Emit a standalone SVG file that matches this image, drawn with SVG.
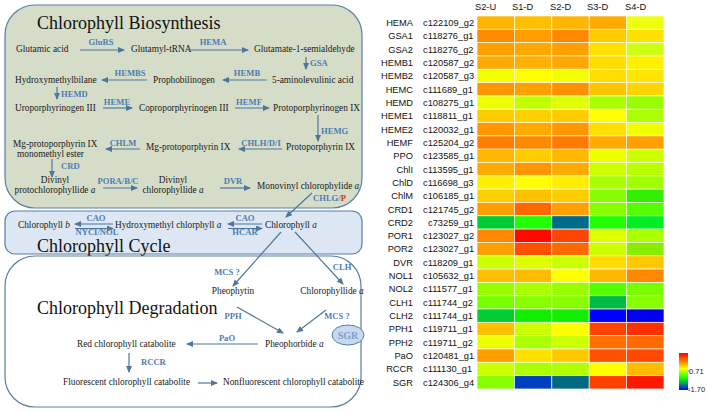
<svg xmlns="http://www.w3.org/2000/svg" width="708" height="414" viewBox="0 0 708 414">
<style>
.t{font-family:"Liberation Serif","Times New Roman",serif;font-size:9.3px;fill:#1a1a1a}
.e{font-family:"Liberation Serif","Times New Roman",serif;font-size:8.6px;font-weight:bold;fill:#4c7db5}
.h{font-family:"Liberation Serif","Times New Roman",serif;font-size:18px;fill:#111}
.g{font-family:"Liberation Sans",Arial,sans-serif;font-size:9.3px;fill:#111}
.ar{stroke:#4f769c;stroke-width:1.2;fill:none;marker-end:url(#ah)}
.box{stroke:#5a7ea6;stroke-width:1.2}
.c{stroke:#fff;stroke-width:0.8;stroke-opacity:0.8}
</style>
<defs>
<marker id="ah" markerUnits="userSpaceOnUse" markerWidth="7" markerHeight="6" refX="6" refY="3" orient="auto">
<path d="M0,0 L7,3 L0,6 z" fill="#4f769c"/>
</marker>
<linearGradient id="lg" x1="0" y1="0" x2="0" y2="1">
<stop offset="0" stop-color="#ff0000"/>
<stop offset="0.2" stop-color="#ff7000"/>
<stop offset="0.42" stop-color="#ffff00"/>
<stop offset="0.7" stop-color="#00ff00"/>
<stop offset="1" stop-color="#0000ff"/>
</linearGradient>
</defs>
<rect width="708" height="414" fill="#fff"/>

<!-- panels -->
<g id="panel-biosynthesis">
<rect class="box" x="5" y="5" width="357" height="203" rx="30" ry="30" fill="#d5ddc8"/>
<text class="h" x="37" y="29">Chlorophyll Biosynthesis</text>
</g>
<g id="panel-cycle">
<rect class="box" x="5" y="211" width="357" height="43" rx="10" ry="10" fill="#dce7f3"/>
<text class="h" x="37" y="251.5">Chlorophyll Cycle</text>
</g>
<g id="panel-degradation">
<rect class="box" x="5" y="256" width="356" height="151" rx="30" ry="30" fill="#ffffff"/>
<text class="h" x="37" y="314">Chlorophyll Degradation</text>
</g>

<!-- nodes -->
<g id="n-glutamic"><text class="t" x="16" y="52">Glutamic acid</text></g>
<g id="n-glutamyl"><text class="t" x="131" y="52">Glutamyl-tRNA</text></g>
<g id="n-gsa"><text class="t" x="254" y="52">Glutamate-1-semialdehyde</text></g>
<g id="n-hmb"><text class="t" x="15" y="83">Hydroxymethylbilane</text></g>
<g id="n-pbg"><text class="t" x="153" y="83">Prophobilinogen</text></g>
<g id="n-ala"><text class="t" x="272" y="83">5-aminolevulinic acid</text></g>
<g id="n-uro"><text class="t" x="15" y="111">Uroporphyrinogen III</text></g>
<g id="n-copro"><text class="t" x="139" y="111">Coproporphyrinogen III</text></g>
<g id="n-protogen"><text class="t" x="273" y="111">Protoporphyrinogen IX</text></g>
<g id="n-mgpme"><text class="t" x="13" y="147">Mg-protoporphyrin IX</text><text class="t" x="17" y="157">monomethyl ester</text></g>
<g id="n-mgp"><text class="t" x="146" y="150">Mg-protoporphyrin IX</text></g>
<g id="n-proto"><text class="t" x="286" y="150">Protoporphyrin IX</text></g>
<g id="n-dvpchl"><text class="t" x="55" y="183" text-anchor="middle">Divinyl</text><text class="t" x="55" y="193" text-anchor="middle">protochlorophyllide <tspan font-style="italic">a</tspan></text></g>
<g id="n-dvchl"><text class="t" x="173" y="183" text-anchor="middle">Divinyl</text><text class="t" x="173" y="193" text-anchor="middle">chlorophyllide <tspan font-style="italic">a</tspan></text></g>
<g id="n-mvchl"><text class="t" x="257" y="189">Monovinyl chlorophylide <tspan font-style="italic">a</tspan></text></g>
<g id="n-chlb"><text class="t" x="18" y="228">Chlorophyll <tspan font-style="italic">b</tspan></text></g>
<g id="n-hmchla"><text class="t" x="115" y="228">Hydroxymethyl chlorphyll <tspan font-style="italic">a</tspan></text></g>
<g id="n-chla"><text class="t" x="265" y="228">Chlorophyll <tspan font-style="italic">a</tspan></text></g>
<g id="n-pheophytin"><text class="t" x="233" y="294" text-anchor="middle">Pheophytin</text></g>
<g id="n-chlide"><text class="t" x="332" y="294" text-anchor="middle">Chlorophyllide <tspan font-style="italic">a</tspan></text></g>
<g id="n-pheide"><text class="t" x="265" y="347">Pheophorbide <tspan font-style="italic">a</tspan></text></g>
<g id="n-sgr"><ellipse cx="348" cy="335" rx="16" ry="10" fill="#c6d9ee" stroke="#5a7ea6" stroke-width="1"/><text x="348" y="339" text-anchor="middle" style="font-family:'Liberation Serif',serif;font-size:10px;font-weight:bold;fill:#7d9fcb">SGR</text></g>
<g id="n-rcc"><text class="t" x="77" y="347">Red chlorophyll catabolite</text></g>
<g id="n-fcc"><text class="t" x="63" y="385">Fluorescent chlorophyll catabolite</text></g>
<g id="n-ncc"><text class="t" x="223" y="385">Nonfluorescent chlorophyll catabolite</text></g>

<!-- connectors -->
<g id="connectors">
<line class="ar" x1="80" y1="50" x2="124" y2="50"/>
<line class="ar" x1="188" y1="50" x2="248" y2="50"/>
<line class="ar" x1="306" y1="57" x2="306" y2="69"/>
<line class="ar" x1="147" y1="80" x2="102" y2="80"/>
<line class="ar" x1="267" y1="80" x2="223" y2="80"/>
<line class="ar" x1="57" y1="87" x2="57" y2="99"/>
<line class="ar" x1="103" y1="108" x2="132" y2="108"/>
<line class="ar" x1="235" y1="108" x2="269" y2="108"/>
<line class="ar" x1="318" y1="115" x2="318" y2="141"/>
<line class="ar" x1="140" y1="149" x2="106" y2="149"/>
<line class="ar" x1="282" y1="149" x2="239" y2="149"/>
<line class="ar" x1="52" y1="159" x2="52" y2="177"/>
<line class="ar" x1="103" y1="188" x2="137" y2="188"/>
<line class="ar" x1="220" y1="188" x2="250" y2="188"/>
<line class="ar" x1="312" y1="193" x2="286" y2="217"/>
<line class="ar" x1="113" y1="224" x2="75" y2="224"/>
<line class="ar" x1="75" y1="228.5" x2="113" y2="228.5"/>
<line class="ar" x1="262" y1="224" x2="228" y2="224"/>
<line class="ar" x1="228" y1="228.5" x2="262" y2="228.5"/>
<line class="ar" x1="281" y1="232" x2="233" y2="286"/>
<line class="ar" x1="295" y1="232" x2="343" y2="284"/>
<line class="ar" x1="237" y1="307" x2="283" y2="333"/>
<line class="ar" x1="326" y1="310" x2="297" y2="332"/>
<line class="ar" x1="258" y1="344" x2="187" y2="344"/>
<line class="ar" x1="129" y1="353" x2="129" y2="372"/>
<line class="ar" x1="198" y1="383" x2="217" y2="383"/>
</g>

<!-- enzyme labels -->
<g id="enzymes">
<text class="e" x="101" y="45" text-anchor="middle">GluRS</text>
<text class="e" x="213" y="45" text-anchor="middle">HEMA</text>
<text class="e" x="310" y="66">GSA</text>
<text class="e" x="130" y="76" text-anchor="middle">HEMBS</text>
<text class="e" x="247" y="76" text-anchor="middle">HEMB</text>
<text class="e" x="61" y="97">HEMD</text>
<text class="e" x="117" y="105" text-anchor="middle">HEME</text>
<text class="e" x="249" y="105" text-anchor="middle">HEMF</text>
<text class="e" x="321" y="134">HEMG</text>
<text class="e" x="123" y="146" text-anchor="middle">CHLM</text>
<text class="e" x="261" y="146" text-anchor="middle">CHLH/D/I</text>
<text class="e" x="61" y="169">CRD</text>
<text class="e" x="118" y="184" text-anchor="middle">PORA/B/C</text>
<text class="e" x="233" y="184" text-anchor="middle">DVR</text>
<text class="e" x="313" y="201">CHLG/<tspan fill="#d0332a">P</tspan></text>
<text class="e" x="96" y="221" text-anchor="middle">CAO</text>
<text class="e" x="97" y="234.5" text-anchor="middle">NYCI/NOL</text>
<text class="e" x="245" y="221" text-anchor="middle">CAO</text>
<text class="e" x="245" y="234.5" text-anchor="middle">HCAR</text>
<text class="e" x="227" y="275" text-anchor="middle">MCS ?</text>
<text class="e" x="342" y="270" text-anchor="middle">CLH</text>
<text class="e" x="233" y="319" text-anchor="middle">PPH</text>
<text class="e" x="337" y="319" text-anchor="middle">MCS ?</text>
<text class="e" x="227" y="341" text-anchor="middle">PaO</text>
<text class="e" x="141" y="365">RCCR</text>
</g>

<!-- heatmap -->
<g id="heatmap">
<g class="g">
<text class="g" x="475" y="10">S2-U</text>
<text class="g" x="512" y="10">S1-D</text>
<text class="g" x="550" y="10">S2-D</text>
<text class="g" x="587" y="10">S3-D</text>
<text class="g" x="625" y="10">S4-D</text>
</g>
<g id="hm-rows" text-anchor="end">
<text class="g" x="413" y="26">HEMA</text>
<text class="g" x="413" y="39.3">GSA1</text>
<text class="g" x="413" y="52.6">GSA2</text>
<text class="g" x="413" y="66">HEMB1</text>
<text class="g" x="413" y="79.3">HEMB2</text>
<text class="g" x="413" y="92.6">HEMC</text>
<text class="g" x="413" y="105.9">HEMD</text>
<text class="g" x="413" y="119.2">HEME1</text>
<text class="g" x="413" y="132.6">HEME2</text>
<text class="g" x="413" y="145.9">HEMF</text>
<text class="g" x="413" y="159.2">PPO</text>
<text class="g" x="413" y="172.5">ChlI</text>
<text class="g" x="413" y="185.8">ChlD</text>
<text class="g" x="413" y="199.2">ChlM</text>
<text class="g" x="413" y="212.5">CRD1</text>
<text class="g" x="413" y="225.8">CRD2</text>
<text class="g" x="413" y="239.1">POR1</text>
<text class="g" x="413" y="252.4">POR2</text>
<text class="g" x="413" y="265.8">DVR</text>
<text class="g" x="413" y="279.1">NOL1</text>
<text class="g" x="413" y="292.4">NOL2</text>
<text class="g" x="413" y="305.7">CLH1</text>
<text class="g" x="413" y="319">CLH2</text>
<text class="g" x="413" y="332.4">PPH1</text>
<text class="g" x="413" y="345.7">PPH2</text>
<text class="g" x="413" y="359">PaO</text>
<text class="g" x="413" y="372.3">RCCR</text>
<text class="g" x="413" y="385.6">SGR</text>
</g>
<g id="hm-ids">
<text class="g" x="423" y="26">c122109_g2</text>
<text class="g" x="423" y="39.3">c118276_g1</text>
<text class="g" x="423" y="52.6">c118276_g2</text>
<text class="g" x="423" y="66">c120587_g2</text>
<text class="g" x="423" y="79.3">c120587_g3</text>
<text class="g" x="423" y="92.6">c111689_g1</text>
<text class="g" x="423" y="105.9">c108275_g1</text>
<text class="g" x="423" y="119.2">c118811_g1</text>
<text class="g" x="423" y="132.6">c120032_g1</text>
<text class="g" x="423" y="145.9">c125204_g2</text>
<text class="g" x="423" y="159.2">c123585_g1</text>
<text class="g" x="423" y="172.5">c113595_g1</text>
<text class="g" x="423" y="185.8">c116698_g3</text>
<text class="g" x="423" y="199.2">c106185_g1</text>
<text class="g" x="423" y="212.5">c121745_g2</text>
<text class="g" x="428" y="225.8">c73259_g1</text>
<text class="g" x="423" y="239.1">c123027_g2</text>
<text class="g" x="423" y="252.4">c123027_g1</text>
<text class="g" x="423" y="265.8">c118209_g1</text>
<text class="g" x="423" y="279.1">c105632_g1</text>
<text class="g" x="423" y="292.4">c111577_g1</text>
<text class="g" x="423" y="305.7">c111744_g2</text>
<text class="g" x="423" y="319">c111744_g1</text>
<text class="g" x="423" y="332.4">c119711_g1</text>
<text class="g" x="423" y="345.7">c119711_g2</text>
<text class="g" x="423" y="359">c120481_g1</text>
<text class="g" x="423" y="372.3">c111130_g1</text>
<text class="g" x="423" y="385.6">c124306_g4</text>
</g>
<g id="hm-cells" class="c">
<rect x="477" y="16" width="37.4" height="13.32" fill="#ffb400"/><rect x="514.4" y="16" width="37.4" height="13.32" fill="#ffbe00"/><rect x="551.8" y="16" width="37.4" height="13.32" fill="#ffb400"/><rect x="589.2" y="16" width="37.4" height="13.32" fill="#ffaa00"/><rect x="626.6" y="16" width="37.4" height="13.32" fill="#eeff10"/>
<rect x="477" y="29.32" width="37.4" height="13.32" fill="#ff8c00"/><rect x="514.4" y="29.32" width="37.4" height="13.32" fill="#ff9c00"/><rect x="551.8" y="29.32" width="37.4" height="13.32" fill="#ff8800"/><rect x="589.2" y="29.32" width="37.4" height="13.32" fill="#ffcc00"/><rect x="626.6" y="29.32" width="37.4" height="13.32" fill="#ffe000"/>
<rect x="477" y="42.64" width="37.4" height="13.32" fill="#ffa000"/><rect x="514.4" y="42.64" width="37.4" height="13.32" fill="#ffa800"/><rect x="551.8" y="42.64" width="37.4" height="13.32" fill="#ffa000"/><rect x="589.2" y="42.64" width="37.4" height="13.32" fill="#ffe000"/><rect x="626.6" y="42.64" width="37.4" height="13.32" fill="#ccff10"/>
<rect x="477" y="55.96" width="37.4" height="13.32" fill="#ffaa00"/><rect x="514.4" y="55.96" width="37.4" height="13.32" fill="#ffb000"/><rect x="551.8" y="55.96" width="37.4" height="13.32" fill="#ffa800"/><rect x="589.2" y="55.96" width="37.4" height="13.32" fill="#ffdd00"/><rect x="626.6" y="55.96" width="37.4" height="13.32" fill="#fff000"/>
<rect x="477" y="69.28" width="37.4" height="13.32" fill="#f2ff00"/><rect x="514.4" y="69.28" width="37.4" height="13.32" fill="#ffff00"/><rect x="551.8" y="69.28" width="37.4" height="13.32" fill="#f2ff00"/><rect x="589.2" y="69.28" width="37.4" height="13.32" fill="#ffdd00"/><rect x="626.6" y="69.28" width="37.4" height="13.32" fill="#ffe400"/>
<rect x="477" y="82.6" width="37.4" height="13.32" fill="#ff9500"/><rect x="514.4" y="82.6" width="37.4" height="13.32" fill="#ffa000"/><rect x="551.8" y="82.6" width="37.4" height="13.32" fill="#ff9000"/><rect x="589.2" y="82.6" width="37.4" height="13.32" fill="#ffc400"/><rect x="626.6" y="82.6" width="37.4" height="13.32" fill="#ffd400"/>
<rect x="477" y="95.92" width="37.4" height="13.32" fill="#eeff00"/><rect x="514.4" y="95.92" width="37.4" height="13.32" fill="#c4ff00"/><rect x="551.8" y="95.92" width="37.4" height="13.32" fill="#e0ff00"/><rect x="589.2" y="95.92" width="37.4" height="13.32" fill="#aaff00"/><rect x="626.6" y="95.92" width="37.4" height="13.32" fill="#99ff00"/>
<rect x="477" y="109.24" width="37.4" height="13.32" fill="#ffcc00"/><rect x="514.4" y="109.24" width="37.4" height="13.32" fill="#ffd000"/><rect x="551.8" y="109.24" width="37.4" height="13.32" fill="#ffcc00"/><rect x="589.2" y="109.24" width="37.4" height="13.32" fill="#ffff00"/><rect x="626.6" y="109.24" width="37.4" height="13.32" fill="#aaff00"/>
<rect x="477" y="122.56" width="37.4" height="13.32" fill="#ff9800"/><rect x="514.4" y="122.56" width="37.4" height="13.32" fill="#ffaa00"/><rect x="551.8" y="122.56" width="37.4" height="13.32" fill="#ff9800"/><rect x="589.2" y="122.56" width="37.4" height="13.32" fill="#ffe000"/><rect x="626.6" y="122.56" width="37.4" height="13.32" fill="#f0ff00"/>
<rect x="477" y="135.88" width="37.4" height="13.32" fill="#ff7f00"/><rect x="514.4" y="135.88" width="37.4" height="13.32" fill="#ff8a00"/><rect x="551.8" y="135.88" width="37.4" height="13.32" fill="#ff7a00"/><rect x="589.2" y="135.88" width="37.4" height="13.32" fill="#ffaa00"/><rect x="626.6" y="135.88" width="37.4" height="13.32" fill="#ffa000"/>
<rect x="477" y="149.2" width="37.4" height="13.32" fill="#ffb800"/><rect x="514.4" y="149.2" width="37.4" height="13.32" fill="#ffcc00"/><rect x="551.8" y="149.2" width="37.4" height="13.32" fill="#ffb800"/><rect x="589.2" y="149.2" width="37.4" height="13.32" fill="#eeff00"/><rect x="626.6" y="149.2" width="37.4" height="13.32" fill="#ccff00"/>
<rect x="477" y="162.52" width="37.4" height="13.32" fill="#ffaa00"/><rect x="514.4" y="162.52" width="37.4" height="13.32" fill="#ff9800"/><rect x="551.8" y="162.52" width="37.4" height="13.32" fill="#ffaa00"/><rect x="589.2" y="162.52" width="37.4" height="13.32" fill="#ccff00"/><rect x="626.6" y="162.52" width="37.4" height="13.32" fill="#b8ff00"/>
<rect x="477" y="175.84" width="37.4" height="13.32" fill="#ffee00"/><rect x="514.4" y="175.84" width="37.4" height="13.32" fill="#ffff00"/><rect x="551.8" y="175.84" width="37.4" height="13.32" fill="#ffee00"/><rect x="589.2" y="175.84" width="37.4" height="13.32" fill="#aaff00"/><rect x="626.6" y="175.84" width="37.4" height="13.32" fill="#a0ff00"/>
<rect x="477" y="189.16" width="37.4" height="13.32" fill="#ffd000"/><rect x="514.4" y="189.16" width="37.4" height="13.32" fill="#ffc000"/><rect x="551.8" y="189.16" width="37.4" height="13.32" fill="#ffcc00"/><rect x="589.2" y="189.16" width="37.4" height="13.32" fill="#88ff00"/><rect x="626.6" y="189.16" width="37.4" height="13.32" fill="#33ee00"/>
<rect x="477" y="202.48" width="37.4" height="13.32" fill="#ffa000"/><rect x="514.4" y="202.48" width="37.4" height="13.32" fill="#ff6800"/><rect x="551.8" y="202.48" width="37.4" height="13.32" fill="#ffa000"/><rect x="589.2" y="202.48" width="37.4" height="13.32" fill="#88ff00"/><rect x="626.6" y="202.48" width="37.4" height="13.32" fill="#55ff00"/>
<rect x="477" y="215.8" width="37.4" height="13.32" fill="#00cc33"/><rect x="514.4" y="215.8" width="37.4" height="13.32" fill="#22ff00"/><rect x="551.8" y="215.8" width="37.4" height="13.32" fill="#006a8a"/><rect x="589.2" y="215.8" width="37.4" height="13.32" fill="#22ff00"/><rect x="626.6" y="215.8" width="37.4" height="13.32" fill="#00ee22"/>
<rect x="477" y="229.12" width="37.4" height="13.32" fill="#ff8800"/><rect x="514.4" y="229.12" width="37.4" height="13.32" fill="#ff0800"/><rect x="551.8" y="229.12" width="37.4" height="13.32" fill="#ff4400"/><rect x="589.2" y="229.12" width="37.4" height="13.32" fill="#ddff00"/><rect x="626.6" y="229.12" width="37.4" height="13.32" fill="#aaff00"/>
<rect x="477" y="242.44" width="37.4" height="13.32" fill="#ffa000"/><rect x="514.4" y="242.44" width="37.4" height="13.32" fill="#ff5000"/><rect x="551.8" y="242.44" width="37.4" height="13.32" fill="#ff6a00"/><rect x="589.2" y="242.44" width="37.4" height="13.32" fill="#ccff00"/><rect x="626.6" y="242.44" width="37.4" height="13.32" fill="#88ee00"/>
<rect x="477" y="255.76" width="37.4" height="13.32" fill="#ccff00"/><rect x="514.4" y="255.76" width="37.4" height="13.32" fill="#ddff00"/><rect x="551.8" y="255.76" width="37.4" height="13.32" fill="#ccff00"/><rect x="589.2" y="255.76" width="37.4" height="13.32" fill="#ffdd00"/><rect x="626.6" y="255.76" width="37.4" height="13.32" fill="#ffc800"/>
<rect x="477" y="269.08" width="37.4" height="13.32" fill="#ffbf00"/><rect x="514.4" y="269.08" width="37.4" height="13.32" fill="#ffbb00"/><rect x="551.8" y="269.08" width="37.4" height="13.32" fill="#ffff00"/><rect x="589.2" y="269.08" width="37.4" height="13.32" fill="#ffb800"/><rect x="626.6" y="269.08" width="37.4" height="13.32" fill="#ff8800"/>
<rect x="477" y="282.4" width="37.4" height="13.32" fill="#99ff00"/><rect x="514.4" y="282.4" width="37.4" height="13.32" fill="#aaff00"/><rect x="551.8" y="282.4" width="37.4" height="13.32" fill="#99ff00"/><rect x="589.2" y="282.4" width="37.4" height="13.32" fill="#55ff00"/><rect x="626.6" y="282.4" width="37.4" height="13.32" fill="#77ff00"/>
<rect x="477" y="295.72" width="37.4" height="13.32" fill="#77ff00"/><rect x="514.4" y="295.72" width="37.4" height="13.32" fill="#88ff00"/><rect x="551.8" y="295.72" width="37.4" height="13.32" fill="#88ff00"/><rect x="589.2" y="295.72" width="37.4" height="13.32" fill="#00bb44"/><rect x="626.6" y="295.72" width="37.4" height="13.32" fill="#88ff00"/>
<rect x="477" y="309.04" width="37.4" height="13.32" fill="#00cc33"/><rect x="514.4" y="309.04" width="37.4" height="13.32" fill="#11ee00"/><rect x="551.8" y="309.04" width="37.4" height="13.32" fill="#11ee00"/><rect x="589.2" y="309.04" width="37.4" height="13.32" fill="#0000ff"/><rect x="626.6" y="309.04" width="37.4" height="13.32" fill="#0000ee"/>
<rect x="477" y="322.36" width="37.4" height="13.32" fill="#ffc000"/><rect x="514.4" y="322.36" width="37.4" height="13.32" fill="#ccff00"/><rect x="551.8" y="322.36" width="37.4" height="13.32" fill="#ffff00"/><rect x="589.2" y="322.36" width="37.4" height="13.32" fill="#ff4400"/><rect x="626.6" y="322.36" width="37.4" height="13.32" fill="#ff3000"/>
<rect x="477" y="335.68" width="37.4" height="13.32" fill="#eeff00"/><rect x="514.4" y="335.68" width="37.4" height="13.32" fill="#aaff00"/><rect x="551.8" y="335.68" width="37.4" height="13.32" fill="#ccff00"/><rect x="589.2" y="335.68" width="37.4" height="13.32" fill="#ff7000"/><rect x="626.6" y="335.68" width="37.4" height="13.32" fill="#ff6a00"/>
<rect x="477" y="349" width="37.4" height="13.32" fill="#ffa000"/><rect x="514.4" y="349" width="37.4" height="13.32" fill="#ffe000"/><rect x="551.8" y="349" width="37.4" height="13.32" fill="#ffc800"/><rect x="589.2" y="349" width="37.4" height="13.32" fill="#ff5000"/><rect x="626.6" y="349" width="37.4" height="13.32" fill="#ff4800"/>
<rect x="477" y="362.32" width="37.4" height="13.32" fill="#ccff00"/><rect x="514.4" y="362.32" width="37.4" height="13.32" fill="#aaff00"/><rect x="551.8" y="362.32" width="37.4" height="13.32" fill="#b0ff00"/><rect x="589.2" y="362.32" width="37.4" height="13.32" fill="#ffff00"/><rect x="626.6" y="362.32" width="37.4" height="13.32" fill="#ffbb00"/>
<rect x="477" y="375.64" width="37.4" height="13.32" fill="#88ff00"/><rect x="514.4" y="375.64" width="37.4" height="13.32" fill="#0040c0"/><rect x="551.8" y="375.64" width="37.4" height="13.32" fill="#006a80"/><rect x="589.2" y="375.64" width="37.4" height="13.32" fill="#ff4000"/><rect x="626.6" y="375.64" width="37.4" height="13.32" fill="#ff1800"/>
</g>
</g>

<!-- legend -->
<g id="legend">
<rect x="679" y="353" width="9" height="37" fill="url(#lg)"/>
<line x1="688" y1="371" x2="690" y2="371" stroke="#333" stroke-width="0.6"/>
<line x1="688" y1="389" x2="690" y2="389" stroke="#333" stroke-width="0.6"/>
<text x="689" y="374" style="font-family:'Liberation Sans',Arial,sans-serif;font-size:7.5px;fill:#222">0.71</text>
<text x="688" y="392" style="font-family:'Liberation Sans',Arial,sans-serif;font-size:7.5px;fill:#222">-1.70</text>
</g>
</svg>
